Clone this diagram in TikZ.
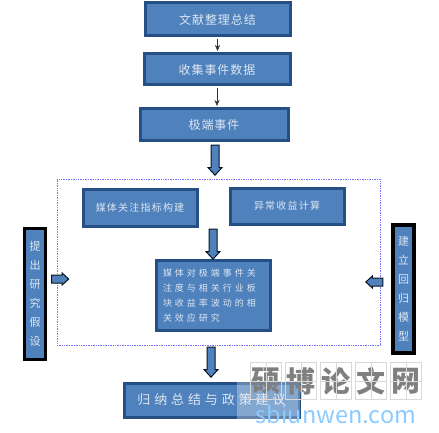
\documentclass[tikz,border=0pt]{standalone}
\usepackage{fontspec}
\usepackage{xcolor}
\setmainfont{Noto Sans CJK SC}
\usetikzlibrary{positioning,shapes.arrows,shadows,arrows.meta}
\definecolor{boxblue}{HTML}{4F81BD}
\definecolor{edgeblue}{HTML}{254F85}
\definecolor{textblue}{HTML}{DCE6F2}
\newcommand{\cntext}[2]{\addfontfeature{LetterSpace=#2}\fontsize{#1}{#1}\selectfont}
\tikzset{
    flowbox/.style={draw=edgeblue, fill=boxblue, line width=3pt, text=textblue, inner sep=0pt, align=center,
        drop shadow={shadow xshift=1.5pt, shadow yshift=-1.5pt, fill=gray!70, opacity=1}},
    sidebox/.style={draw=black, fill=boxblue, line width=3.2pt, text=textblue, inner sep=0pt, align=center, minimum width=21pt,
        font=\fontsize{11}{19}\selectfont},
    thinarrow/.style={-{Stealth[length=6pt,width=5pt]}, black!80, shorten >=1.5pt, shorten <=1.5pt},
    fatarrow/.style={shape=single arrow, draw=black!75!edgeblue, fill=boxblue, line width=1pt, inner xsep=0pt, inner ysep=3.5pt,
        single arrow head extend=3pt, single arrow head indent=0pt, single arrow tip angle=85},
    gridcell/.style={draw=black!15, line width=0.7pt, minimum width=31pt, minimum height=37pt, inner sep=0pt,
        text=black!50, font=\bfseries\fontsize{29}{29}\selectfont},
}
\begin{document}
\begin{tikzpicture}[x=1pt,y=-1pt]
    \useasboundingbox (0,0) rectangle (439,433);
    % dotted frame round the middle part
    \node[draw=blue!55!white, densely dotted, line width=0.7pt, minimum width=323pt, minimum height=166pt, inner sep=0pt] (frame) at (218.5,262) {};
    % top column
    \node[flowbox, minimum width=145pt, minimum height=33pt] (review) at (217.5,19.5) {\cntext{12}{8}文献整理总结};
    \node[flowbox, minimum width=146pt, minimum height=31pt] (collect) at (217,69.5) {\cntext{12}{8}收集事件数据};
    \node[flowbox, minimum width=148pt, minimum height=32pt] (events) at (214,125) {\cntext{12}{8}极端事件};
    \draw[thinarrow] (review.south) -- (review.south |- collect.north);
    \draw[thinarrow] (collect.south) -- (collect.south |- events.north);
    % inside the frame
    \node[flowbox, minimum width=114pt, minimum height=37pt] (media) at (140,207.5) {\cntext{10}{12}媒体关注指标构建};
    \node[flowbox, minimum width=114pt, minimum height=36pt] (abnormal) at (287,206) {\cntext{10}{12}异常收益计算};
    \node[flowbox, minimum width=114pt, minimum height=70pt] (study) at (213,295.5) {\cntext{9}{33}\parbox{100pt}{\baselineskip=15pt
        媒体对极端事件关\\注度与相关行业板\\块收益率波动的相\\关效应研究}};
    % side boxes
    \node[sidebox, minimum height=131pt] (hypo) at (35,294) {提\\出\\研\\究\\假\\设};
    \node[sidebox, minimum height=128pt] (model) at (403.5,289) {建\\立\\回\\归\\模\\型};
    % bottom box
    \node[flowbox, minimum width=175pt, minimum height=34pt] (summary) at (211.5,400) {\cntext{13}{30}归纳总结与政策建议};
    % thick arrows
    \node[fatarrow, rotate=-90, minimum height=30pt] (arrowtop) at (215,158) {};
    \node[fatarrow, rotate=-90, minimum height=30pt] (arrowmid) at (213,242) {};
    \node[fatarrow, rotate=-90, minimum height=30pt] (arrowlow) at (211,360) {};
    \node[fatarrow, minimum height=17pt, single arrow head extend=2pt] (arrowleft) at (58,279) {};
    \node[fatarrow, rotate=180, minimum height=17pt, single arrow head extend=2pt] (arrowright) at (376.5,282) {};
    % watermark
    \fill[white, opacity=0.3] (237,382) rectangle (300,420);
    \foreach \cellx/\cellname/\celltext in {266/cella/硕,301/cellb/博,336/cellc/论,371/celld/文,406/celle/网}{
        \node[gridcell] (\cellname) at (\cellx,381) {\celltext};
        \draw[black!15] (\cellname.north) -- (\cellname.south);
        \draw[black!15] (\cellname.west) -- (\cellname.east);
    }
    \node[inner sep=0pt, text=blue!45!cyan!45!white, font=\fontsize{23.5}{23.5}\selectfont] (site) at (336,414) {sbiunwen.com};
\end{tikzpicture}
\end{document}
